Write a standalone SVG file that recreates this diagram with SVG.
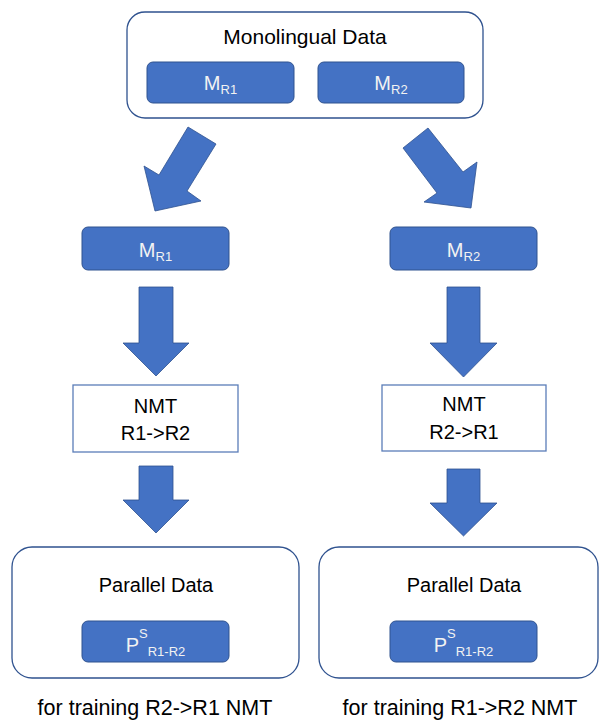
<svg xmlns="http://www.w3.org/2000/svg" width="599" height="720" viewBox="0 0 599 720">
<style>
.cont{fill:#fff;stroke:#2F528F;stroke-width:1.3}
.blue{fill:#4472C4;stroke:#2F528F;stroke-width:1}
.nmt{fill:#fff;stroke:#5B7DB8;stroke-width:1.3}
.arr{fill:#4472C4;stroke:#2F528F;stroke-width:0.8}
text{font-family:"Liberation Sans",Arial,sans-serif;fill:#000;text-anchor:middle}
.w{fill:#F2F2F2;font-size:20px}
.s{font-size:13px}
</style>
<rect width="599" height="720" fill="#fff"/>
<g id="monolingual">
<rect class="cont" x="127" y="12" width="356" height="106" rx="18"/>
<text x="305" y="44" font-size="21">Monolingual Data</text>
<rect class="blue" x="147" y="62" width="147" height="41" rx="6"/>
<text class="w" x="220.5" y="90">M<tspan class="s" dy="4">R1</tspan></text>
<rect class="blue" x="318" y="62" width="146" height="41" rx="6"/>
<text class="w" x="391" y="90">M<tspan class="s" dy="4">R2</tspan></text>
</g>
<g id="mr1">
<rect class="blue" x="82" y="227" width="147" height="43" rx="6"/>
<text class="w" x="155.5" y="257">M<tspan class="s" dy="4">R1</tspan></text>
</g>
<g id="mr2">
<rect class="blue" x="390" y="227" width="147" height="43" rx="6"/>
<text class="w" x="463.5" y="257">M<tspan class="s" dy="4">R2</tspan></text>
</g>
<g id="nmt1">
<rect class="nmt" x="73" y="385" width="165" height="67"/>
<text x="155.5" y="413" font-size="20">NMT</text>
<text x="155.5" y="440" font-size="20">R1-&gt;R2</text>
</g>
<g id="nmt2">
<rect class="nmt" x="382" y="385" width="164" height="66"/>
<text x="464" y="411" font-size="20">NMT</text>
<text x="464" y="439" font-size="20">R2-&gt;R1</text>
</g>
<g id="parallel1">
<rect class="cont" x="12" y="547" width="287" height="131" rx="20"/>
<text x="156" y="592" font-size="20">Parallel Data</text>
<rect class="blue" x="82" y="621" width="147" height="41" rx="6"/>
<text class="w" x="155.5" y="652">P<tspan class="s" dy="-14">S</tspan><tspan class="s" dy="18">R1-R2</tspan></text>
</g>
<g id="parallel2">
<rect class="cont" x="319" y="547" width="279" height="131" rx="20"/>
<text x="464" y="592" font-size="20">Parallel Data</text>
<rect class="blue" x="390" y="621" width="147" height="41" rx="6"/>
<text class="w" x="463.5" y="652">P<tspan class="s" dy="-14">S</tspan><tspan class="s" dy="18">R1-R2</tspan></text>
</g>
<g id="label1"><text x="155" y="715" font-size="21.5">for training R2-&gt;R1 NMT</text></g>
<g id="label2"><text x="460" y="715" font-size="21.5">for training R1-&gt;R2 NMT</text></g>
<g id="connectors">
<polygon class="arr" points="188,127 216,144 187,191 201,201 155,211 144,166 159,175"/>
<polygon class="arr" points="428,128 463,172 477,162 471,208 424,202 437,193 403,148"/>
<polygon class="arr" points="139,287 173,287 173,343 189,343 156,376 123,343 139,343"/>
<polygon class="arr" points="447,287 480,287 480,343 497,343 463.5,377 430,343 447,343"/>
<polygon class="arr" points="139,466 173,466 173,500 189,500 156,533 123,500 139,500"/>
<polygon class="arr" points="447,469 480,469 480,503 497,503 463.5,536 430,503 447,503"/>
</g>
</svg>
